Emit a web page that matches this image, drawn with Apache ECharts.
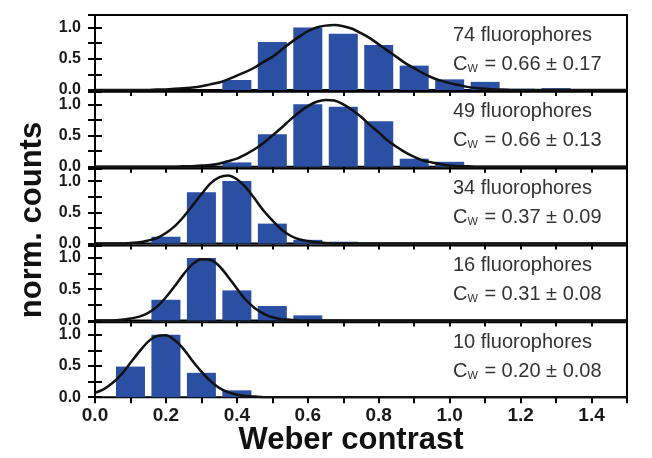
<!DOCTYPE html>
<html>
<head>
<meta charset="utf-8">
<script src="https://cdn.jsdelivr.net/npm/echarts@6/dist/echarts.min.js"></script>
<style>
  html, body { margin: 0; padding: 0; background: #fff; }
  #chart { width: 652px; height: 458px; }
</style>
</head>
<body>
<div id="chart"></div>
<script>
// histogram bin centres (Weber contrast)
const binX = [0.1, 0.2, 0.3, 0.4, 0.5, 0.6, 0.7, 0.8, 0.9, 1.0, 1.1, 1.2, 1.3];
const counts74 = [0, 0, 0, 0.16, 0.77, 1.0, 0.90, 0.72, 0.39, 0.17, 0.13, 0.02, 0.03];
const counts49 = [0, 0, 0, 0.07, 0.52, 1.0, 0.96, 0.73, 0.13, 0.08, 0, 0, 0];
const counts34 = [0, 0.11, 0.82, 1.0, 0.32, 0.06, 0.03, 0, 0, 0, 0, 0, 0];
const counts16 = [0, 0.33, 1.0, 0.48, 0.23, 0.08, 0, 0, 0, 0, 0, 0, 0];
const counts10 = [0.49, 1.0, 0.39, 0.11, 0, 0, 0, 0, 0, 0, 0, 0, 0];

// gaussian fit curves
const fitX = [
  0, 0.025, 0.05, 0.075, 0.1, 0.125, 0.15, 0.175, 0.2, 0.225,
  0.25, 0.275, 0.3, 0.325, 0.35, 0.375, 0.4, 0.425, 0.45, 0.475,
  0.5, 0.525, 0.55, 0.575, 0.6, 0.625, 0.65, 0.675, 0.7, 0.725,
  0.75, 0.775, 0.8, 0.825, 0.85, 0.875, 0.9, 0.925, 0.95, 0.975,
  1.0, 1.025, 1.05, 1.075, 1.1, 1.125, 1.15, 1.175, 1.2, 1.225,
  1.25, 1.275, 1.3, 1.325, 1.35, 1.375, 1.4, 1.425, 1.45, 1.475,
  1.5
];
const fit74 = [
  0, 0, 0, 0, 0, 0, 0, 0.01, 0.01, 0.02,
  0.03, 0.04, 0.06, 0.09, 0.12, 0.17, 0.23, 0.29, 0.36, 0.45,
  0.53, 0.64, 0.75, 0.85, 0.94, 1.0, 1.03, 1.04, 1.02, 0.98,
  0.91, 0.83, 0.73, 0.63, 0.53, 0.43, 0.35, 0.27, 0.20, 0.15,
  0.11, 0.08, 0.05, 0.03, 0.02, 0.01, 0.01, 0, 0, 0,
  0, 0, 0, 0, 0, 0, 0, 0, 0, 0,
  0
];
const fit49 = [
  0, 0, 0, 0, 0, 0, 0, 0, 0, 0,
  0.01, 0.01, 0.02, 0.03, 0.05, 0.09, 0.13, 0.20, 0.28, 0.38,
  0.50, 0.62, 0.75, 0.87, 0.97, 1.04, 1.07, 1.06, 1.00, 0.91,
  0.80, 0.67, 0.55, 0.42, 0.32, 0.23, 0.16, 0.10, 0.07, 0.04,
  0.02, 0.01, 0.01, 0, 0, 0, 0, 0, 0, 0,
  0, 0, 0, 0, 0, 0, 0, 0, 0, 0,
  0
];
const fit34 = [
  0, 0, 0, 0, 0.01, 0.02, 0.05, 0.09, 0.17, 0.28,
  0.43, 0.61, 0.79, 0.96, 1.06, 1.09, 1.03, 0.90, 0.72, 0.53,
  0.37, 0.23, 0.13, 0.07, 0.04, 0.02, 0.01, 0, 0, 0,
  0, 0, 0, 0, 0, 0, 0, 0, 0, 0,
  0, 0, 0, 0, 0, 0, 0, 0, 0, 0,
  0, 0, 0, 0, 0, 0, 0, 0, 0, 0,
  0
];
const fit16 = [
  0, 0, 0, 0.01, 0.03, 0.06, 0.12, 0.22, 0.37, 0.55,
  0.74, 0.90, 0.98, 0.97, 0.87, 0.70, 0.51, 0.33, 0.20, 0.11,
  0.05, 0.02, 0.01, 0, 0, 0, 0, 0, 0, 0,
  0, 0, 0, 0, 0, 0, 0, 0, 0, 0,
  0, 0, 0, 0, 0, 0, 0, 0, 0, 0,
  0, 0, 0, 0, 0, 0, 0, 0, 0, 0,
  0
];
const fit10 = [
  0.07, 0.13, 0.23, 0.37, 0.55, 0.73, 0.89, 0.98, 0.99, 0.91,
  0.77, 0.58, 0.41, 0.26, 0.15, 0.08, 0.04, 0.02, 0.01, 0,
  0, 0, 0, 0, 0, 0, 0, 0, 0, 0,
  0, 0, 0, 0, 0, 0, 0, 0, 0, 0,
  0, 0, 0, 0, 0, 0, 0, 0, 0, 0,
  0, 0, 0, 0, 0, 0, 0, 0, 0, 0,
  0
];

const nLabels = ['74 fluorophores', '49 fluorophores', '34 fluorophores', '16 fluorophores', '10 fluorophores'];
const cwLabels = ['0.66 ± 0.17', '0.66 ± 0.13', '0.37 ± 0.09', '0.31 ± 0.08', '0.20 ± 0.08'];

const panels = [
  { counts: counts74, fit: fit74 },
  { counts: counts49, fit: fit49 },
  { counts: counts34, fit: fit34 },
  { counts: counts16, fit: fit16 },
  { counts: counts10, fit: fit10 }
];

const FONT = '"Liberation Sans", Arial, sans-serif';
const TOP = 15, STEP = 76.8, H = 75;
const tickStyle = { color: '#000', width: 2 };

const grid = [], xAxis = [], yAxis = [], series = [], graphic = [];

panels.forEach((p, i) => {
  const top = TOP + STEP * i;
  const last = i === panels.length - 1;
  grid.push({
    left: 95, right: 25, top, height: H,
    show: true, borderColor: '#000', borderWidth: 2, backgroundColor: 'transparent'
  });
  xAxis.push({
    gridIndex: i, type: 'value', min: 0, max: 1.5, interval: 0.1, position: 'bottom',
    axisLine: { show: false }, splitLine: { show: false },
    axisTick: { show: last, inside: false, length: 5, lineStyle: tickStyle },
    axisLabel: {
      show: last, margin: 9, color: '#1a1a1a', fontFamily: FONT, fontWeight: 'bold', fontSize: 19,
      formatter: v => {
        const k = Math.round(v * 10);
        return (k % 2 === 0 && k <= 14) ? (k / 10).toFixed(1) : '';
      }
    }
  });
  xAxis.push({
    gridIndex: i, type: 'value', min: 0, max: 1.5, interval: 0.1, position: 'top',
    axisLine: { show: false }, splitLine: { show: false }, axisLabel: { show: false },
    axisTick: { inside: true, length: 6, lineStyle: tickStyle }
  });
  yAxis.push({
    gridIndex: i, type: 'value', min: 0, max: 1.2, interval: 0.25, position: 'left',
    axisLine: { show: false }, splitLine: { show: false },
    axisTick: { inside: true, length: 7, lineStyle: tickStyle },
    axisLabel: {
      margin: 14, color: '#1a1a1a', fontFamily: FONT, fontWeight: 'bold', fontSize: 16,
      formatter: v => {
        const k = Math.round(v * 4);
        return (Math.abs(v * 4 - k) < 1e-6 && k % 2 === 0 && k <= 4) ? (k / 4).toFixed(1) : '';
      }
    }
  });
  yAxis.push({
    gridIndex: i, type: 'value', min: 0, max: 1.2, interval: 0.25, position: 'right',
    axisLine: { show: false }, splitLine: { show: false }, axisLabel: { show: false },
    axisTick: { inside: true, length: 7, lineStyle: tickStyle }
  });
  series.push({
    type: 'bar', xAxisIndex: 2 * i, yAxisIndex: 2 * i, barWidth: 29,
    itemStyle: { color: '#2b4fa2' },
    data: binX.map((x, k) => [x, p.counts[k]]),
    silent: true, z: 2
  });
  series.push({
    type: 'line', xAxisIndex: 2 * i, yAxisIndex: 2 * i, smooth: 0.3, symbol: 'none',
    lineStyle: { color: '#111', width: 2.5 },
    data: fitX.map((x, k) => [x, p.fit[k]]),
    silent: true, z: 3
  });
  graphic.push({
    type: 'text', x: 453, y: top + 20,
    style: { text: nLabels[i], font: '20px ' + FONT, fill: '#333', align: 'left', verticalAlign: 'middle' }
  });
  graphic.push({
    type: 'text', x: 453, y: top + 49,
    style: {
      text: '{c|C}{w|W}{c| = ' + cwLabels[i] + '}',
      align: 'left', verticalAlign: 'middle',
      rich: {
        c: { fontSize: 20, fontFamily: FONT, fill: '#333' },
        w: { fontSize: 11, fontFamily: FONT, fill: '#333', verticalAlign: 'bottom', padding: [0, 1, 0, 0] }
      }
    }
  });
});

graphic.push({
  type: 'text', x: 351, y: 440,
  style: { text: 'Weber contrast', font: 'bold 31px ' + FONT, fill: '#111', align: 'center', verticalAlign: 'middle' }
});
graphic.push({
  type: 'text', x: 32, y: 220, rotation: Math.PI / 2,
  style: { text: 'norm. counts', font: 'bold 31px ' + FONT, fill: '#111', align: 'center', verticalAlign: 'middle' }
});

const chart = echarts.init(document.getElementById('chart'), null, { renderer: 'canvas' });
chart.setOption({
  animation: false,
  backgroundColor: '#fff',
  grid, xAxis, yAxis, series, graphic
});
</script>
</body>
</html>
